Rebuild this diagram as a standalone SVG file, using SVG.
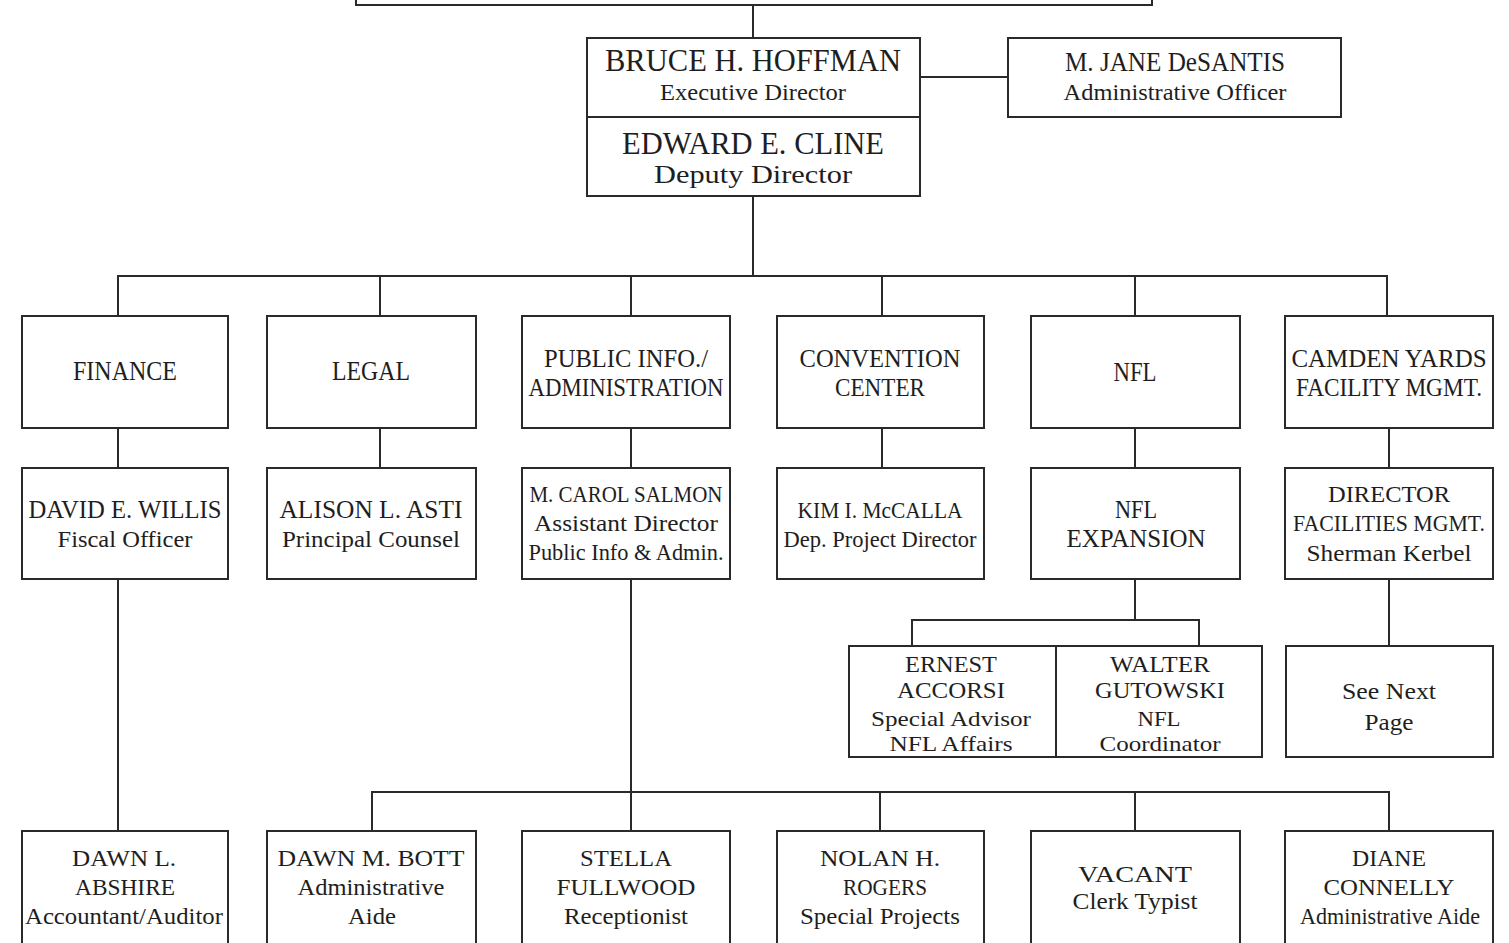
<svg xmlns="http://www.w3.org/2000/svg" width="1509" height="943" viewBox="0 0 1509 943">
<style>
rect{fill:#fff;stroke:#2a2a2a;stroke-width:2}
.c line,.c path{stroke:#2a2a2a;stroke-width:2;fill:none}
text{font-family:"Liberation Serif",serif;fill:#1e1e1e;text-anchor:middle}
.b{font-size:31px}.m{font-size:27px}.s{font-size:25px}.t{font-size:23px}
</style>
<rect x="0" y="0" width="1509" height="943" style="fill:#fff;stroke:none"/>
<g class="c" id="connectors">
<line x1="753" y1="5" x2="753" y2="38"/>
<line x1="920" y1="77" x2="1008" y2="77"/>
<line x1="753" y1="196" x2="753" y2="276"/>
<path d="M118 316V276H1387V316"/>
<line x1="380" y1="276" x2="380" y2="316"/>
<line x1="631" y1="276" x2="631" y2="316"/>
<line x1="882" y1="276" x2="882" y2="316"/>
<line x1="1135" y1="276" x2="1135" y2="316"/>
<line x1="118" y1="428" x2="118" y2="468"/>
<line x1="380" y1="428" x2="380" y2="468"/>
<line x1="631" y1="428" x2="631" y2="468"/>
<line x1="882" y1="428" x2="882" y2="468"/>
<line x1="1135" y1="428" x2="1135" y2="468"/>
<line x1="1389" y1="428" x2="1389" y2="468"/>
<line x1="1135" y1="579" x2="1135" y2="620"/>
<path d="M912 646V620H1199V646"/>
<line x1="1389" y1="579" x2="1389" y2="646"/>
<line x1="118" y1="579" x2="118" y2="831"/>
<line x1="631" y1="579" x2="631" y2="831"/>
<path d="M372 831V792H1389V831"/>
<line x1="880" y1="792" x2="880" y2="831"/>
<line x1="1135" y1="792" x2="1135" y2="831"/>
</g>
<g id="board"><rect x="356" y="-20" width="796" height="25"/></g>
<g id="hoffman"><rect x="587" y="38" width="333" height="79"/>
<text class="b" x="753" y="71" textLength="296" lengthAdjust="spacingAndGlyphs">BRUCE H. HOFFMAN</text>
<text class="t" x="753" y="100" textLength="186" lengthAdjust="spacingAndGlyphs">Executive Director</text></g>
<g id="cline"><rect x="587" y="117" width="333" height="79"/>
<text class="b" x="753" y="154" textLength="262" lengthAdjust="spacingAndGlyphs">EDWARD E. CLINE</text>
<text style="font-size:26px" x="753" y="183" textLength="198" lengthAdjust="spacingAndGlyphs">Deputy Director</text></g>
<g id="desantis"><rect x="1008" y="38" width="333" height="79"/>
<text class="m" x="1175" y="71" textLength="220" lengthAdjust="spacingAndGlyphs">M. JANE DeSANTIS</text>
<text class="t" x="1175" y="100" textLength="223" lengthAdjust="spacingAndGlyphs">Administrative Officer</text></g>

<g id="finance"><rect x="22" y="316" width="206" height="112"/>
<text class="m" x="125" y="380" textLength="104" lengthAdjust="spacingAndGlyphs">FINANCE</text></g>
<g id="legal"><rect x="267" y="316" width="209" height="112"/>
<text class="m" x="371" y="380" textLength="78" lengthAdjust="spacingAndGlyphs">LEGAL</text></g>
<g id="pubinfo"><rect x="522" y="316" width="208" height="112"/>
<text class="s" x="626" y="367" textLength="164" lengthAdjust="spacingAndGlyphs">PUBLIC INFO./</text>
<text class="s" x="626" y="396" textLength="195" lengthAdjust="spacingAndGlyphs">ADMINISTRATION</text></g>
<g id="convention"><rect x="777" y="316" width="207" height="112"/>
<text class="s" x="880" y="367" textLength="161" lengthAdjust="spacingAndGlyphs">CONVENTION</text>
<text class="s" x="880" y="396" textLength="90" lengthAdjust="spacingAndGlyphs">CENTER</text></g>
<g id="nfl"><rect x="1031" y="316" width="209" height="112"/>
<text class="m" x="1135" y="381" textLength="43" lengthAdjust="spacingAndGlyphs">NFL</text></g>
<g id="camden"><rect x="1285" y="316" width="208" height="112"/>
<text class="s" x="1389" y="367" textLength="195" lengthAdjust="spacingAndGlyphs">CAMDEN YARDS</text>
<text class="s" x="1389" y="396" textLength="186" lengthAdjust="spacingAndGlyphs">FACILITY MGMT.</text></g>

<g id="willis"><rect x="22" y="468" width="206" height="111"/>
<text class="s" x="125" y="518" textLength="193" lengthAdjust="spacingAndGlyphs">DAVID E. WILLIS</text>
<text class="t" x="125" y="547" textLength="135" lengthAdjust="spacingAndGlyphs">Fiscal Officer</text></g>
<g id="asti"><rect x="267" y="468" width="209" height="111"/>
<text class="s" x="371" y="518" textLength="183" lengthAdjust="spacingAndGlyphs">ALISON L. ASTI</text>
<text class="t" x="371" y="547" textLength="178" lengthAdjust="spacingAndGlyphs">Principal Counsel</text></g>
<g id="salmon"><rect x="522" y="468" width="208" height="111"/>
<text class="t" x="626" y="502" textLength="193" lengthAdjust="spacingAndGlyphs">M. CAROL SALMON</text>
<text class="t" x="626" y="531" textLength="184" lengthAdjust="spacingAndGlyphs">Assistant Director</text>
<text class="t" x="626" y="560" textLength="195" lengthAdjust="spacingAndGlyphs">Public Info &amp; Admin.</text></g>
<g id="mccalla"><rect x="777" y="468" width="207" height="111"/>
<text class="t" x="880" y="518" textLength="165" lengthAdjust="spacingAndGlyphs">KIM I. McCALLA</text>
<text class="t" x="880" y="547" textLength="193" lengthAdjust="spacingAndGlyphs">Dep. Project Director</text></g>
<g id="nflexp"><rect x="1031" y="468" width="209" height="111"/>
<text class="s" x="1136" y="518" textLength="42" lengthAdjust="spacingAndGlyphs">NFL</text>
<text class="s" x="1136" y="547" textLength="139" lengthAdjust="spacingAndGlyphs">EXPANSION</text></g>
<g id="facdir"><rect x="1285" y="468" width="208" height="111"/>
<text class="t" x="1389" y="502" textLength="122" lengthAdjust="spacingAndGlyphs">DIRECTOR</text>
<text class="t" x="1389" y="531" textLength="192" lengthAdjust="spacingAndGlyphs">FACILITIES MGMT.</text>
<text class="t" x="1389" y="561" textLength="165" lengthAdjust="spacingAndGlyphs">Sherman Kerbel</text></g>

<g id="accorsi"><rect x="849" y="646" width="207" height="111"/>
<text class="t" x="951" y="672" textLength="92" lengthAdjust="spacingAndGlyphs">ERNEST</text>
<text class="t" x="951" y="698" textLength="108" lengthAdjust="spacingAndGlyphs">ACCORSI</text>
<text style="font-size:22px" x="951" y="726" textLength="160" lengthAdjust="spacingAndGlyphs">Special Advisor</text>
<text style="font-size:22px" x="951" y="751" textLength="123" lengthAdjust="spacingAndGlyphs">NFL Affairs</text></g>
<g id="gutowski"><rect x="1056" y="646" width="206" height="111"/>
<text class="t" x="1160" y="672" textLength="100" lengthAdjust="spacingAndGlyphs">WALTER</text>
<text class="t" x="1160" y="698" textLength="130" lengthAdjust="spacingAndGlyphs">GUTOWSKI</text>
<text style="font-size:22px" x="1159" y="726" textLength="43" lengthAdjust="spacingAndGlyphs">NFL</text>
<text style="font-size:22px" x="1160" y="751" textLength="121" lengthAdjust="spacingAndGlyphs">Coordinator</text></g>
<g id="nextpage"><rect x="1286" y="646" width="207" height="111"/>
<text class="t" x="1389" y="699" textLength="94" lengthAdjust="spacingAndGlyphs">See Next</text>
<text class="t" x="1389" y="730" textLength="49" lengthAdjust="spacingAndGlyphs">Page</text></g>

<g id="abshire"><rect x="22" y="831" width="206" height="130"/>
<text class="t" x="124" y="866" textLength="104" lengthAdjust="spacingAndGlyphs">DAWN L.</text>
<text class="t" x="125" y="895" textLength="100" lengthAdjust="spacingAndGlyphs">ABSHIRE</text>
<text class="t" x="124" y="924" textLength="198" lengthAdjust="spacingAndGlyphs">Accountant/Auditor</text></g>
<g id="bott"><rect x="267" y="831" width="209" height="130"/>
<text class="t" x="371" y="866" textLength="187" lengthAdjust="spacingAndGlyphs">DAWN M. BOTT</text>
<text class="t" x="371" y="895" textLength="147" lengthAdjust="spacingAndGlyphs">Administrative</text>
<text class="t" x="372" y="924" textLength="48" lengthAdjust="spacingAndGlyphs">Aide</text></g>
<g id="fullwood"><rect x="522" y="831" width="208" height="130"/>
<text class="t" x="626" y="866" textLength="92" lengthAdjust="spacingAndGlyphs">STELLA</text>
<text class="t" x="626" y="895" textLength="139" lengthAdjust="spacingAndGlyphs">FULLWOOD</text>
<text class="t" x="626" y="924" textLength="124" lengthAdjust="spacingAndGlyphs">Receptionist</text></g>
<g id="rogers"><rect x="777" y="831" width="207" height="130"/>
<text class="t" x="880" y="866" textLength="120" lengthAdjust="spacingAndGlyphs">NOLAN H.</text>
<text class="t" x="885" y="895" textLength="84" lengthAdjust="spacingAndGlyphs">ROGERS</text>
<text class="t" x="880" y="924" textLength="160" lengthAdjust="spacingAndGlyphs">Special Projects</text></g>
<g id="vacant"><rect x="1031" y="831" width="209" height="130"/>
<text class="t" x="1135" y="882" textLength="114" lengthAdjust="spacingAndGlyphs">VACANT</text>
<text class="t" x="1135" y="909" textLength="125" lengthAdjust="spacingAndGlyphs">Clerk Typist</text></g>
<g id="connelly"><rect x="1285" y="831" width="208" height="130"/>
<text class="t" x="1389" y="866" textLength="74" lengthAdjust="spacingAndGlyphs">DIANE</text>
<text class="t" x="1389" y="895" textLength="131" lengthAdjust="spacingAndGlyphs">CONNELLY</text>
<text class="t" x="1390" y="924" textLength="180" lengthAdjust="spacingAndGlyphs">Administrative Aide</text></g>
</svg>
